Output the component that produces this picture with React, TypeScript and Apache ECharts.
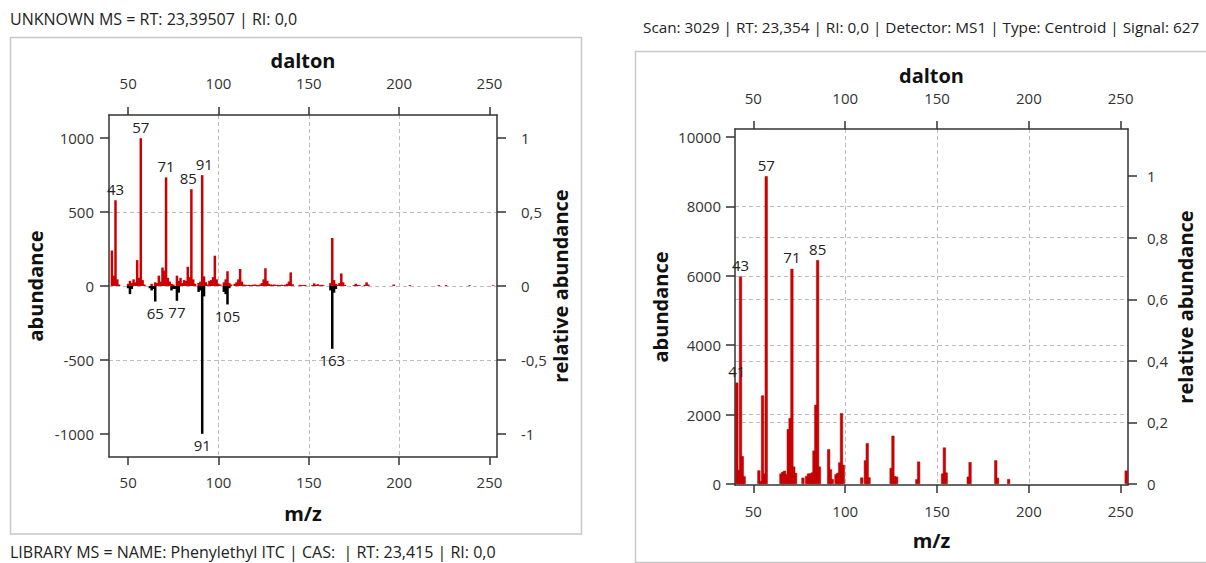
import React, { useEffect, useRef } from "react";
import * as echarts from "echarts";

const FONT = "'Open Sans', 'Noto Sans', sans-serif";

// ---------- texts ----------
const unknownTitle = "UNKNOWN MS = RT: 23,39507 | RI: 0,0";
const libraryTitle = "LIBRARY MS = NAME: Phenylethyl ITC | CAS:  | RT: 23,415 | RI: 0,0";
const scanTitle = "Scan: 3029 | RT: 23,354 | RI: 0,0 | Detector: MS1 | Type: Centroid | Signal: 627";

// ---------- ticks ----------
const mzTicks = [50, 100, 150, 200, 250];
const cmpAbundanceTicks = [-1000, -500, 0, 500, 1000];
const cmpRelativeTicks = [-1, -0.5, 0, 0.5, 1];
const scanAbundanceTicks = [0, 2000, 4000, 6000, 8000, 10000];
const scanRelativeTicks = [0, 0.2, 0.4, 0.6, 0.8, 1];

// ---------- unknown spectrum (normalised, up) ----------
const unknownMz = [
  41, 42, 43, 44, 45, 50, 51, 52, 53, 54, 55, 56, 57, 58, 59, 63, 65, 66, 67, 68,
  69, 70, 71, 72, 73, 74, 75, 77, 78, 79, 80, 81, 82, 83, 84, 85, 86, 87, 89, 90,
  91, 92, 93, 94, 95, 96, 97, 98, 99, 100, 101, 103, 104, 105, 106, 107, 109, 110, 111, 112,
  113, 114, 115, 116, 117, 118, 119, 120, 121, 122, 123, 124, 125, 126, 127, 128, 129, 130, 131, 132,
  133, 134, 135, 136, 137, 138, 139, 140, 141, 145, 146, 147, 148, 152, 153, 154, 155, 156, 157, 158,
  162, 163, 164, 165, 166, 167, 168, 169, 170, 175, 176, 177, 178, 181, 182, 183, 197, 206, 222, 226,
  239, 252,
];
const unknownAbundance = [
  240, 70, 580, 45, 10, 15, 35, 20, 45, 25, 175, 55, 1000, 40, 10, 15, 25, 20, 70, 30,
  125, 105, 735, 55, 30, 15, 10, 70, 35, 55, 20, 40, 35, 130, 60, 655, 45, 15, 20, 30,
  750, 65, 25, 10, 35, 40, 60, 205, 45, 15, 10, 25, 45, 100, 20, 10, 15, 25, 45, 115,
  30, 10, 8, 6, 8, 6, 8, 10, 8, 6, 10, 20, 45, 120, 35, 15, 10, 8, 10, 6,
  8, 6, 8, 6, 8, 15, 30, 92, 12, 8, 6, 6, 8, 6, 18, 8, 12, 6, 8, 6,
  20, 325, 40, 15, 8, 20, 85, 25, 8, 6, 15, 8, 6, 8, 25, 10, 10, 6, 6, 6,
  5, 5,
];
const unknownLabelled = [43, 57, 71, 85, 91];

// ---------- library spectrum (normalised, down) ----------
const libraryMz = [50, 51, 52, 62, 63, 64, 65, 74, 75, 76, 77, 78, 89, 90, 91, 92, 103, 104, 105, 106, 162, 163, 164, 165];
const libraryAbundance = [-15, -55, -20, -15, -30, -20, -105, -30, -20, -20, -100, -45, -40, -30, -1000, -70, -40, -55, -125, -15, -30, -425, -45, -20];
const libraryLabelled = [65, 77, 91, 105, 163];

// ---------- scan 3029 (raw abundance) ----------
const scanMz = [
  41, 42, 43, 44, 45, 53, 54, 55, 56, 57, 65, 66, 67, 68, 69, 70, 71, 72, 73, 77,
  79, 80, 81, 82, 83, 84, 85, 86, 91, 92, 93, 95, 96, 97, 98, 99, 109, 111, 112, 113,
  125, 126, 127, 128, 139, 140, 153, 154, 155, 167, 168, 182, 183, 189, 253,
];
const scanAbundance = [
  2920, 400, 5980, 800, 220, 390, 80, 2550, 300, 8870, 300, 350, 380, 280, 1580, 1900, 6200, 500, 320, 180,
  230, 300, 300, 330, 960, 2280, 6450, 500, 1000, 420, 140, 280, 320, 620, 2040, 550, 185, 680, 1175, 190,
  460, 1390, 220, 210, 135, 645, 300, 1050, 330, 210, 630, 680, 175, 140, 385,
];
const scanLabelled = [41, 43, 57, 71, 85];
const scanBasePeak = 8870;

// ---------- axis extents ----------
const cmpMzRange = [39.4, 254.2];
const cmpAbundanceRange = [-1157, 1157];
const scanMzRange = [40, 254];
const scanAbundanceRange = [-30, 10230];

const comma = (v: number) => String(v).replace(".", ",");
const plain = (v: number) => String(v);

const labelOffsets: Record<number, number[]> = { 85: [-3, 0], 91: [2, 0] };

function pairs(mz: number[], ab: number[], labelled: number[], useOffsets: boolean) {
  return mz.map((m, i) => {
    if (!labelled.includes(m)) return [m, ab[i]];
    const lab: any = { show: true };
    if (useOffsets && labelOffsets[m]) lab.offset = labelOffsets[m];
    return { value: [m, ab[i]], label: lab };
  });
}

const tickText = { fontSize: 15, color: "#333", fontFamily: FONT };
const nameText = { fontSize: 20, fontWeight: "bold" as const, color: "#111", fontFamily: FONT };
const axisLine = { show: true, onZero: false, lineStyle: { color: "#333", width: 1.5 } };
const gridDash = { color: "#bdbdbd", width: 1, type: [4, 3] as number[] };

function xAxisDef(grid: number, pos: "top" | "bottom", range: number[], name: string, gap: number, margin: number, split: boolean) {
  return {
    type: "value",
    gridIndex: grid,
    position: pos,
    min: range[0],
    max: range[1],
    name,
    nameLocation: "middle",
    nameGap: gap,
    nameTextStyle: nameText,
    axisLine,
    axisTick: { show: true, length: 8, customValues: mzTicks, lineStyle: { color: "#333", width: 1.5 } },
    axisLabel: { ...tickText, margin, customValues: mzTicks, formatter: plain },
    splitLine: { show: split, showMinLine: false, showMaxLine: false, lineStyle: gridDash },
  };
}

function yAxisDef(grid: number, pos: "left" | "right", range: number[], ticks: number[], name: string, gap: number, margin: number, split: boolean, fmt: (v: number) => string) {
  return {
    type: "value",
    gridIndex: grid,
    position: pos,
    min: range[0],
    max: range[1],
    name,
    nameLocation: "middle",
    nameGap: gap,
    nameTextStyle: nameText,
    axisLine,
    axisTick: { show: true, length: 9, customValues: ticks, lineStyle: { color: "#333", width: 1.5 } },
    axisLabel: { ...tickText, margin, customValues: ticks, formatter: (v: number) => fmt(v), align: pos === "right" ? "left" : "right" },
    splitLine: { show: split, showMinLine: false, showMaxLine: false, lineStyle: gridDash },
  };
}

export default function App() {
  const ref = useRef<HTMLDivElement>(null);

  useEffect(() => {
    if (!ref.current) return;
    const chart = echarts.init(ref.current, null, { renderer: "svg" });

    const labelStyle = { fontSize: 15, color: "#222", fontFamily: FONT, distance: 4 };

    const option: any = {
      animation: false,
      backgroundColor: "#ffffff",
      textStyle: { fontFamily: FONT },
      grid: [
        { left: 109, top: 115, width: 388, height: 342 },
        { left: 735, top: 129, width: 393, height: 356 },
      ],
      xAxis: [
        xAxisDef(0, "bottom", cmpMzRange, "m/z", 46, 17, true),
        xAxisDef(0, "top", cmpMzRange, "dalton", 42, 25, false),
        xAxisDef(1, "bottom", scanMzRange, "m/z", 45, 18, true),
        xAxisDef(1, "top", scanMzRange, "dalton", 43, 24, false),
      ],
      yAxis: [
        yAxisDef(0, "left", cmpAbundanceRange, cmpAbundanceTicks, "abundance", 64, 15, true, plain),
        yAxisDef(0, "right", cmpAbundanceRange.map((v) => v / 1000), cmpRelativeTicks, "relative abundance", 53, 24, false, comma),
        yAxisDef(1, "left", scanAbundanceRange, scanAbundanceTicks, "abundance", 65, 14, true, plain),
        yAxisDef(1, "right", scanAbundanceRange.map((v) => v / scanBasePeak), scanRelativeTicks, "relative abundance", 47, 19, true, comma),
      ],
      series: [
        {
          type: "bar",
          xAxisIndex: 0,
          yAxisIndex: 0,
          barWidth: 2.5,
          barGap: "-100%",
          itemStyle: { color: "#cc0000" },
          label: { show: false, position: "top", formatter: (p: any) => String(p.value[0]), ...labelStyle },
          data: pairs(unknownMz, unknownAbundance, unknownLabelled, true),
        },
        {
          type: "bar",
          xAxisIndex: 0,
          yAxisIndex: 0,
          barWidth: 2.5,
          barGap: "-100%",
          itemStyle: { color: "#000000" },
          label: { show: false, position: "bottom", formatter: (p: any) => String(p.value[0]), ...labelStyle },
          data: pairs(libraryMz, libraryAbundance, libraryLabelled, false),
        },
        {
          type: "bar",
          xAxisIndex: 2,
          yAxisIndex: 2,
          barWidth: 3,
          itemStyle: { color: "#d40000", borderColor: "#a00000", borderWidth: 0.5 },
          label: { show: false, position: "top", formatter: (p: any) => String(p.value[0]), ...labelStyle },
          data: pairs(scanMz, scanAbundance, scanLabelled, false),
        },
      ],
      graphic: [
        { type: "rect", silent: true, z: 0, shape: { x: 10.5, y: 37.5, width: 571, height: 496.5 }, style: { fill: "none", stroke: "#c8c8c8", lineWidth: 1.5 } },
        { type: "rect", silent: true, z: 0, shape: { x: 635.5, y: 51.5, width: 600, height: 511 }, style: { fill: "none", stroke: "#c8c8c8", lineWidth: 1.5 } },
        { type: "text", x: 10, y: 19, style: { text: unknownTitle, fontSize: 16, fontFamily: FONT, fill: "#222", verticalAlign: "middle" } },
        { type: "text", x: 643, y: 27, style: { text: scanTitle, fontSize: 15.3, fontFamily: FONT, fill: "#222", verticalAlign: "middle" } },
        { type: "text", x: 10, y: 552, style: { text: libraryTitle, fontSize: 16, fontFamily: FONT, fill: "#222", verticalAlign: "middle" } },
      ],
    };

    chart.setOption(option);
    return () => chart.dispose();
  }, []);

  return (
    <div
      ref={ref}
      style={{ position: "absolute", left: 0, top: 0, width: 1206, height: 563, background: "#fff" }}
    />
  );
}
